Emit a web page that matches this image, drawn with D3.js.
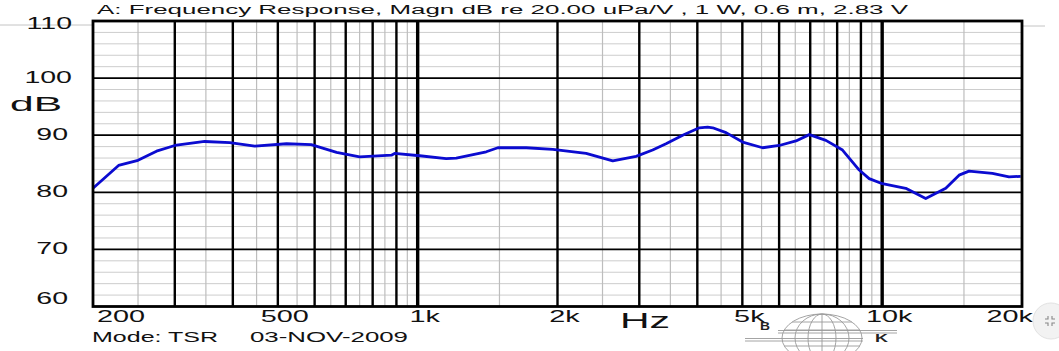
<!DOCTYPE html>
<html lang="en">
<head>
<meta charset="utf-8">
<script src="https://d3js.org/d3.v7.min.js"></script>
<style>
    html, body { margin: 0; padding: 0; background: #fff; }
    svg { display: block; font-family: "Liberation Sans", Arial, sans-serif; }
</style>
</head>
<body>
<div id="chart"></div>
<script>

    const freqs = [200, 227, 250, 274, 300, 348, 394, 446, 522, 590, 669, 750, 878, 892,
                   1010, 1152, 1211, 1405, 1488, 1713, 1954, 2305, 2630, 2953, 3205, 3425,
                   3720, 4040, 4210, 4316, 4612, 5007, 5528, 6004, 6522, 6968, 7566, 8215,
                   8925, 9376, 10010, 11240, 12410, 13705, 14640, 15380, 17270, 18750, 19870];
    const levels = [80.7, 84.7, 85.6, 87.2, 88.2, 88.9, 88.7, 88.1, 88.5, 88.35, 87.0, 86.2, 86.5, 86.8,
                    86.4, 85.9, 86.0, 87.1, 87.8, 87.8, 87.5, 86.8, 85.5, 86.3, 87.4, 88.5,
                    90.0, 91.3, 91.4, 91.3, 90.45, 88.8, 87.8, 88.2, 89.0, 90.1, 89.1, 87.4,
                    83.9, 82.4, 81.5, 80.7, 78.9, 80.7, 83.0, 83.7, 83.3, 82.7, 82.8];

    // tick labels
    const xTicks = [200, 500, 1000, 2000, 5000, 10000, 20000];
    const xTickLabels = ["200", "500", "1k", "2k", "5k", "10k", "20k"];
    const yTicks = [60, 70, 80, 90, 100, 110];

    const title = "A: Frequency Response, Magn dB re 20.00 uPa/V , 1 W, 0.6 m, 2.83 V";

    const width = 1059, height = 351;

    const svg = d3.select("#chart").append("svg")
        .attr("width", width)
        .attr("height", height);

    const x = d3.scaleLog().domain([200, 20000]).range([93, 1022]);
    const y = d3.scaleLinear().domain([60, 110]).range([306.5, 21]);

    // the source picture is stretched sideways, so the text is too
    function stretch(sel, factor) {
        sel.each(function() {
            const w = this.getComputedTextLength();
            d3.select(this).attr("textLength", w * factor).attr("lengthAdjust", "spacingAndGlyphs");
        });
    }

    // grey line running through the "110" label
    svg.append("line").attr("x1", 0).attr("x2", 93).attr("y1", 25).attr("y2", 25)
        .attr("stroke", "#c4c4c4").attr("stroke-width", 1);
    svg.append("line").attr("x1", 1022).attr("x2", 1045).attr("y1", 26).attr("y2", 26)
        .attr("stroke", "#c4c4c4").attr("stroke-width", 1);

    // grid frequencies
    const minorF = d3.range(250, 1000, 100)
        .concat([1500], d3.range(2500, 10000, 1000), [15000]);
    const majorF = d3.range(300, 1000, 100).concat(d3.range(2000, 10000, 1000));
    const heavyF = [1000, 10000];
    const minorDb = d3.range(62, 110, 2).filter(d => d % 10 !== 0);
    const majorDb = [70, 80, 90, 100];

    const grid = svg.append("g");

    grid.selectAll(".hminor").data(minorDb).join("line")
        .attr("x1", x(200)).attr("x2", x(20000))
        .attr("y1", d => y(d)).attr("y2", d => y(d))
        .attr("stroke", "#cdcdcd").attr("stroke-width", 1);

    grid.selectAll(".vminor").data(minorF).join("line")
        .attr("x1", d => x(d)).attr("x2", d => x(d))
        .attr("y1", y(110)).attr("y2", y(60))
        .attr("stroke", "#bdbdbd").attr("stroke-width", 1.2);

    grid.selectAll(".hmajor").data(majorDb).join("line")
        .attr("x1", x(200)).attr("x2", x(20000))
        .attr("y1", d => y(d)).attr("y2", d => y(d))
        .attr("stroke", "#000").attr("stroke-width", 1.8);

    grid.selectAll(".vmajor").data(majorF).join("line")
        .attr("x1", d => x(d)).attr("x2", d => x(d))
        .attr("y1", y(110)).attr("y2", y(60))
        .attr("stroke", "#000").attr("stroke-width", 2.4);

    grid.selectAll(".vheavy").data(heavyF).join("line")
        .attr("x1", d => x(d)).attr("x2", d => x(d))
        .attr("y1", y(110)).attr("y2", y(60))
        .attr("stroke", "#000").attr("stroke-width", 3.4);

    // response curve
    const pts = freqs.map((f, i) => [f, levels[i]]);
    svg.append("path")
        .datum(pts)
        .attr("fill", "none")
        .attr("stroke", "#0b0bd0")
        .attr("stroke-width", 2.8)
        .attr("stroke-linejoin", "round")
        .attr("d", d3.line().x(d => x(d[0])).y(d => y(d[1])));

    // frame
    svg.append("rect")
        .attr("x", x(200)).attr("y", y(110))
        .attr("width", x(20000) - x(200)).attr("height", y(60) - y(110))
        .attr("fill", "none").attr("stroke", "#000").attr("stroke-width", 2.8);

    // y labels
    svg.selectAll(".ylab").data(yTicks).join("text")
        .attr("x", d => String(d).length === 3 ? 72 : 68)
        .attr("y", d => Math.max(29, Math.min(304, y(d) + 5)))
        .attr("text-anchor", "end")
        .attr("font-size", 16)
        .attr("fill", "#111")
        .text(d => d)
        .call(stretch, 1.78);

    // x labels
    svg.selectAll(".xlab").data(xTicks).join("text")
        .attr("y", 321.7)
        .attr("font-size", 16)
        .attr("fill", "#111")
        .text((d, i) => xTickLabels[i])
        .call(stretch, 1.8)
        .each(function(d) {
            const w = +this.getAttribute("textLength");
            let left = x(d) + 7 - w / 2;
            left = Math.max(97, Math.min(1033 - w, left));
            d3.select(this).attr("x", left);
        });

    svg.append("text").attr("x", 10).attr("y", 110.5)
        .attr("font-size", 21).attr("fill", "#111")
        .attr("textLength", 52).attr("lengthAdjust", "spacingAndGlyphs")
        .text("dB");

    svg.append("text").attr("x", 620).attr("y", 327.5)
        .attr("font-size", 22).attr("fill", "#111")
        .attr("textLength", 50).attr("lengthAdjust", "spacingAndGlyphs")
        .text("Hz");

    svg.append("text").attr("x", 97).attr("y", 14)
        .attr("font-size", 12.5).attr("fill", "#111")
        .attr("textLength", 811).attr("lengthAdjust", "spacingAndGlyphs")
        .text(title);

    svg.append("text").attr("x", 92).attr("y", 341.7)
        .attr("font-size", 14).attr("fill", "#111")
        .attr("textLength", 126).attr("lengthAdjust", "spacingAndGlyphs")
        .text("Mode: TSR");

    svg.append("text").attr("x", 250).attr("y", 341.7)
        .attr("font-size", 14).attr("fill", "#111")
        .attr("textLength", 158).attr("lengthAdjust", "spacingAndGlyphs")
        .text("03-NOV-2009");

    // B&K globe logo
    const logo = svg.append("g").attr("transform", "translate(822,338)")
        .attr("fill", "none").attr("stroke", "#9a9a9a").attr("stroke-width", 0.9);
    const rx = 40, ry = 24;
    logo.append("ellipse").attr("rx", rx).attr("ry", ry);
    [27, 14].forEach(r => logo.append("ellipse").attr("rx", r).attr("ry", ry));
    logo.append("line").attr("y1", -ry).attr("y2", ry);
    [-16, -8, 8, 16].forEach(dy => {
        const hw = rx * Math.sqrt(1 - (dy / ry) * (dy / ry));
        logo.append("line").attr("x1", -hw).attr("x2", hw).attr("y1", dy).attr("y2", dy);
    });
    [-7.5, -5].forEach(dy => logo.append("line").attr("x1", -44).attr("x2", 75).attr("y1", dy).attr("y2", dy));
    [0.5, 3].forEach(dy => logo.append("line").attr("x1", -77).attr("x2", 41).attr("y1", dy).attr("y2", dy));
    svg.append("text").attr("x", 760).attr("y", 330).attr("font-size", 10).attr("font-weight", "bold")
        .attr("fill", "#222").attr("textLength", 10).attr("lengthAdjust", "spacingAndGlyphs").text("B");
    svg.append("text").attr("x", 875).attr("y", 342).attr("font-size", 10).attr("font-weight", "bold")
        .attr("fill", "#222").attr("textLength", 13).attr("lengthAdjust", "spacingAndGlyphs").text("K");

    // little round viewer button in the corner
    svg.append("circle").attr("cx", 1051).attr("cy", 321).attr("r", 18)
        .attr("fill", "#f2f2f2").attr("stroke", "#e2e2e2");
    const ic = svg.append("g").attr("transform", "translate(1050,321)")
        .attr("stroke", "#888").attr("stroke-width", 1.1).attr("fill", "none");
    ic.append("path").attr("d", "M-5,-2 H-2 V-5 M5,-2 H2 V-5 M-5,2 H-2 V5 M5,2 H2 V5");

</script>
</body>
</html>
